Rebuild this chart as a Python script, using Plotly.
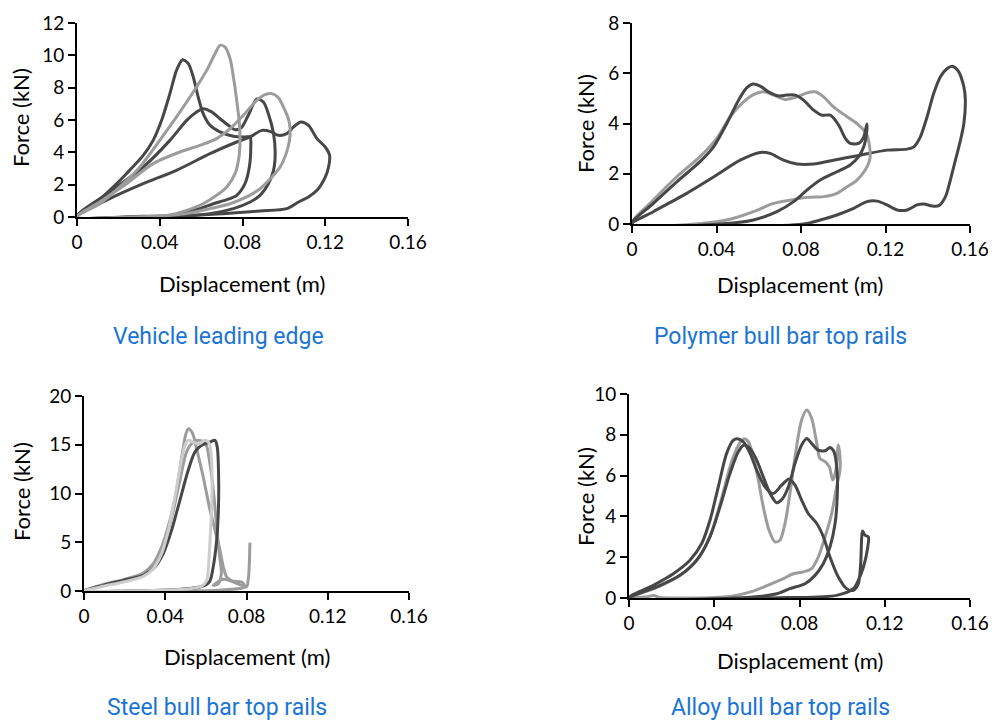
import plotly.graph_objects as go

# ---------------- data (displacement m, force kN) ----------------
# Panel 1: Vehicle leading edge
veh_a_x = [0, 0.0078, 0.0158, 0.0239, 0.032, 0.0368, 0.0409, 0.0449, 0.0481, 0.051, 0.0538, 0.0562, 0.0586, 0.061, 0.0643, 0.0691, 0.0756, 0.0812, 0.0837,
           0.084, 0.0833, 0.0812, 0.0772, 0.0724, 0.0659, 0.0594, 0.0514, 0.04, 0.024, 0]
veh_a_y = [0, 0.72, 1.65, 2.68, 3.81, 4.74, 5.98, 7.63, 9.07, 9.73, 9.49, 8.66, 7.42, 6.39, 5.67, 5.26, 4.99, 4.95, 4.95,
           4.33, 3.09, 2.06, 1.34, 1.07, 0.82, 0.52, 0.21, 0.04, 0, 0]
veh_b_x = [0, 0.0158, 0.032, 0.0481, 0.0643, 0.0772, 0.0837, 0.0893, 0.0933, 0.0974, 0.1014, 0.1047, 0.1082, 0.1119, 0.116, 0.12, 0.1221,
           0.1216, 0.12, 0.116, 0.1119, 0.1071, 0.1014, 0.0885, 0.0724, 0.0562, 0.032, 0]
veh_b_y = [0, 1.13, 2.06, 2.89, 3.92, 4.64, 4.95, 5.36, 5.30, 5.05, 5.16, 5.57, 5.88, 5.67, 4.85, 4.33, 3.81,
           3.09, 2.47, 1.65, 1.24, 0.93, 0.52, 0.37, 0.21, 0.1, 0.04, 0]
veh_c_x = [0, 0.0158, 0.032, 0.0449, 0.053, 0.0578, 0.061, 0.0651, 0.0691, 0.0732, 0.0764, 0.0796, 0.0828, 0.0869, 0.0901, 0.0925, 0.095, 0.0958,
           0.095, 0.0925, 0.0885, 0.0837, 0.0756, 0.0643, 0.0481, 0]
veh_c_y = [0, 1.55, 3.09, 4.74, 5.98, 6.5, 6.7, 6.5, 6.08, 5.67, 5.4, 5.55, 6.29, 7.3, 7.11, 6.39, 5.16, 3.92,
           2.89, 2.06, 1.34, 0.93, 0.52, 0.21, 0.04, 0]
veh_d_x = [0, 0.011, 0.0207, 0.0304, 0.04, 0.0481, 0.0562, 0.0627, 0.0667, 0.0691, 0.0715, 0.074, 0.0756, 0.0772, 0.0785, 0.0788,
           0.0783, 0.0764, 0.0724, 0.0675, 0.061, 0.053, 0.0433, 0.024, 0]
veh_d_y = [0, 0.82, 1.86, 3.09, 4.74, 6.19, 7.73, 9.07, 10.1, 10.62, 10.52, 9.79, 8.66, 7.22, 5.77, 4.74,
           3.71, 2.68, 1.86, 1.34, 0.82, 0.41, 0.1, 0, 0]
veh_e_x = [0, 0.011, 0.0239, 0.0368, 0.0497, 0.0594, 0.0675, 0.074, 0.0804, 0.0869, 0.0909, 0.0942, 0.0974, 0.0998, 0.1022, 0.103,
           0.1027, 0.1011, 0.0982, 0.0942, 0.0885, 0.082, 0.074, 0.0643, 0.053, 0.0368, 0]
veh_e_y = [0, 0.93, 2.06, 3.3, 4.02, 4.43, 4.85, 5.46, 6.29, 7.22, 7.57, 7.63, 7.38, 6.8, 6.08, 5.46,
           4.74, 3.92, 3.09, 2.47, 1.75, 1.24, 0.82, 0.52, 0.21, 0.04, 0]

# Panel 2: Polymer bull bar top rails
pol_a_x = [0, 0.0101, 0.0212, 0.0322, 0.0386, 0.0449, 0.0504, 0.0544, 0.0572, 0.0607, 0.0646, 0.0694, 0.0733, 0.0773, 0.0812, 0.086, 0.0899,
           0.0939, 0.0978, 0.101, 0.1033, 0.1073, 0.1097, 0.1112, 0.111, 0.1097, 0.1073, 0.1033, 0.097, 0.0891, 0.0828, 0.0765, 0.0686,
           0.0575, 0.0417, 0]
pol_a_y = [0, 0.82, 1.68, 2.48, 3.07, 4.0, 4.93, 5.43, 5.57, 5.49, 5.26, 5.10, 5.13, 5.13, 4.93, 4.53, 4.33,
           4.33, 3.94, 3.41, 3.21, 3.21, 3.47, 3.98, 3.6, 3.07, 2.68, 2.35, 2.08, 1.75, 1.35, 0.89, 0.49,
           0.16, 0, 0]
pol_b_x = [0, 0.0101, 0.0212, 0.0322, 0.0401, 0.0465, 0.0528, 0.0575, 0.0623, 0.067, 0.0725, 0.0781, 0.0828, 0.0867, 0.0907, 0.0954,
           0.1018, 0.1073, 0.1109, 0.1125, 0.1125, 0.1104, 0.1065, 0.1018, 0.097, 0.0907, 0.0828, 0.0749, 0.067, 0.0575, 0.0465,
           0.0338, 0]
pol_b_y = [0, 0.95, 1.88, 2.68, 3.41, 4.27, 4.86, 5.15, 5.26, 5.13, 4.96, 5.06, 5.22, 5.26, 5.06, 4.66,
           4.27, 3.94, 3.6, 3.07, 2.54, 2.15, 1.75, 1.48, 1.22, 1.09, 1.06, 0.95, 0.82, 0.49, 0.19,
           0.03, 0]
pol_c_x = [0, 0.0101, 0.0259, 0.0401, 0.0512, 0.0607, 0.0654, 0.0717, 0.0781, 0.086, 0.0954, 0.1081, 0.1207, 0.1302, 0.1334, 0.1365,
           0.1397, 0.1428, 0.146, 0.1492, 0.1515, 0.1542, 0.1571, 0.1578, 0.1571, 0.1555, 0.1531, 0.1507, 0.1484, 0.1452, 0.142,
           0.1381, 0.1349, 0.1302, 0.1255, 0.1207, 0.116, 0.1112, 0.1049, 0.097, 0.0891, 0.0812, 0]
pol_c_y = [0, 0.49, 1.22, 1.95, 2.54, 2.85, 2.81, 2.54, 2.39, 2.39, 2.54, 2.74, 2.94, 2.98, 3.07, 3.47,
           4.27, 5.19, 5.86, 6.19, 6.28, 6.12, 5.46, 4.93, 4.0, 3.34, 2.54, 1.75, 1.09, 0.73, 0.72,
           0.8, 0.76, 0.56, 0.56, 0.76, 0.91, 0.89, 0.62, 0.36, 0.16, 0, 0]

# Panel 3: Steel bull bar top rails
stl_a_x = [0, 0.0095, 0.0194, 0.0292, 0.0349, 0.039, 0.0431, 0.0472, 0.0513, 0.0546, 0.0579, 0.062, 0.0645, 0.0656, 0.0663, 0.0661,
           0.0653, 0.0636, 0.0617, 0.0571, 0.0505, 0.0374, 0.021, 0]
stl_a_y = [0, 0.58, 1.09, 1.61, 2.46, 3.83, 6.22, 9.3, 12.38, 14.26, 14.94, 15.28, 15.45, 14.77, 11.35, 7.93,
           5.2, 2.46, 0.92, 0.41, 0.24, 0.07, 0, 0]
stl_b_x = [0, 0.0095, 0.0194, 0.0292, 0.0341, 0.0382, 0.0423, 0.0456, 0.0481, 0.0502, 0.0515, 0.0535, 0.0558, 0.0587, 0.0617, 0.0645,
           0.0666, 0.0686, 0.0702, 0.0735, 0.0776, 0.08, 0.081, 0.0817]
stl_b_y = [0, 0.68, 1.16, 1.85, 2.8, 4.51, 7.25, 10.33, 13.74, 16.14, 16.65, 16.14, 14.26, 11.69, 8.62, 6.22,
           4.51, 2.46, 1.44, 0.92, 0.58, 0.41, 1.44, 4.96]
stl_c_x = [0, 0.0112, 0.021, 0.03, 0.0349, 0.0394, 0.0436, 0.0472, 0.0505, 0.0538, 0.0571, 0.0599, 0.062, 0.064, 0.0653, 0.0666,
           0.0676, 0.0661, 0.0636, 0.0686, 0.0735, 0.0776, 0.0792, 0.0653, 0.0374, 0]
stl_c_y = [0, 0.68, 1.2, 1.85, 2.8, 4.86, 7.93, 11.35, 14.26, 15.28, 15.45, 15.11, 13.06, 9.64, 6.56, 3.83,
           1.78, 0.75, 0.58, 1.2, 0.99, 0.92, 0.41, 0.07, 0, 0]
stl_d_x = [0, 0.0095, 0.0194, 0.0292, 0.0341, 0.0382, 0.0415, 0.0448, 0.0476, 0.0497, 0.0513, 0.0538, 0.0567, 0.0595, 0.0617, 0.0628,
           0.063, 0.0623, 0.0615, 0.0604, 0.0579, 0.0522, 0.0374, 0.0177, 0]
stl_d_y = [0, 0.48, 0.92, 1.5, 2.29, 3.83, 6.22, 9.64, 13.06, 14.94, 15.45, 15.28, 15.11, 15.45, 15.11, 13.4,
           9.64, 6.22, 3.15, 1.09, 0.48, 0.24, 0.07, 0, 0]

# Panel 4: Alloy bull bar top rails
aly_a_x = [0, 0.0114, 0.0208, 0.0286, 0.0341, 0.038, 0.0419, 0.0458, 0.049, 0.0508, 0.0536, 0.0568, 0.0599, 0.0638, 0.0677, 0.0716,
           0.0751, 0.0779, 0.081, 0.0841, 0.0881, 0.0912, 0.0943, 0.0982, 0.1021, 0.1053, 0.1076, 0.1087, 0.1096, 0.1107, 0.1123,
           0.1118, 0.11, 0.1076, 0.1053, 0.0974, 0.074, 0]
aly_a_y = [0, 0.62, 1.19, 1.85, 2.67, 3.81, 5.45, 7.09, 7.74, 7.81, 7.66, 7.09, 6.27, 5.45, 5.12, 5.53,
           5.83, 5.53, 4.8, 4.14, 3.65, 3.0, 2.01, 1.03, 0.46, 0.38, 0.7, 1.69, 3.29, 3.08, 3.0,
           2.34, 1.52, 0.87, 0.46, 0.13, 0.02, 0]
aly_b_x = [0, 0.013, 0.0239, 0.0317, 0.038, 0.0427, 0.0474, 0.0513, 0.054, 0.0568, 0.0599, 0.063, 0.0662, 0.0693, 0.0721, 0.0748,
           0.0779, 0.081, 0.0834, 0.0857, 0.0888, 0.092, 0.0943, 0.0962, 0.0977, 0.0977, 0.0967, 0.0943, 0.0912, 0.0873, 0.0826,
           0.0755, 0.0693, 0.0583, 0]
aly_b_y = [0, 0.54, 1.11, 1.85, 3.0, 4.47, 6.11, 7.17, 7.5, 7.33, 6.76, 5.94, 5.12, 4.67, 4.88, 5.45,
           6.6, 7.5, 7.82, 7.58, 7.25, 7.22, 7.38, 7.17, 6.11, 4.96, 3.65, 2.5, 1.69, 1.11, 0.7,
           0.46, 0.21, 0.05, 0]
aly_c_x = [0, 0.0145, 0.0255, 0.0333, 0.0388, 0.0435, 0.0482, 0.0521, 0.054, 0.056, 0.0583, 0.0607, 0.063, 0.0657,
           0.0685, 0.0708, 0.0732, 0.0755, 0.0779, 0.081, 0.0834, 0.0857, 0.0881, 0.0896, 0.092, 0.094, 0.0956, 0.0971, 0.0982,
           0.099, 0.099, 0.0974, 0.0951, 0.092, 0.0888, 0.0857, 0.0818, 0.0771, 0.0724, 0.0662, 0.0583, 0.0474, 0.0271,
           0.0145, 0.0115, 0.0085, 0]
aly_c_y = [0, 0.58, 1.22, 2.05, 3.25, 4.9, 6.7, 7.62, 7.8, 7.66, 6.92, 5.78, 4.47, 3.32,
           2.75, 2.83, 3.65, 5.12, 6.92, 8.73, 9.22, 8.81, 7.58, 6.84, 6.68, 6.43, 5.78, 6.27, 7.5,
           6.92, 6.27, 5.45, 4.14, 3.0, 2.01, 1.44, 1.28, 1.19, 0.95, 0.67, 0.34, 0.08, 0,
           0.02, 0.12, 0.06, 0]

x_ticks = [0, 0.04, 0.08, 0.12, 0.16]
x_tick_labels = ["0", "0.04", "0.08", "0.12", "0.16"]
panel_titles = ["Vehicle leading edge", "Polymer bull bar top rails",
                "Steel bull bar top rails", "Alloy bull bar top rails"]
y_axis_title = "Force (kN)"
x_axis_title = "Displacement (m)"

# ---------------- styling ----------------
DARK = "#474747"
GRAY = "#9c9c9c"
LIGHT = "#cdcdcd"
OFF = 8                      # page body margin
W, H = 996, 722


def fx(px):
    return (px - OFF) / W


def fy(py):
    return 1 - (py - OFF) / H


panels = [
    dict(curves=[(veh_a_x, veh_a_y, DARK), (veh_b_x, veh_b_y, DARK), (veh_c_x, veh_c_y, DARK),
                 (veh_d_x, veh_d_y, GRAY), (veh_e_x, veh_e_y, GRAY)],
         px=(77, 408), py=(217, 23), yr=12, dy=2),
    dict(curves=[(pol_c_x, pol_c_y, DARK), (pol_b_x, pol_b_y, GRAY), (pol_a_x, pol_a_y, DARK)],
         px=(632, 970), py=(224, 23), yr=8, dy=2),
    dict(curves=[(stl_b_x, stl_b_y, GRAY), (stl_c_x, stl_c_y, GRAY), (stl_a_x, stl_a_y, DARK), (stl_d_x, stl_d_y, LIGHT)],
         px=(84, 409), py=(591, 396), yr=20, dy=5),
    dict(curves=[(aly_c_x, aly_c_y, GRAY), (aly_a_x, aly_a_y, DARK), (aly_b_x, aly_b_y, DARK)],
         px=(629, 970), py=(598, 394), yr=10, dy=2),
]

fig = go.Figure()
TICKFONT = dict(family="Lato, Liberation Sans, sans-serif", size=19, color="black")

for i, p in enumerate(panels, start=1):
    xa = "x" if i == 1 else f"x{i}"
    ya = "y" if i == 1 else f"y{i}"
    for cx, cy, col in p["curves"]:
        fig.add_trace(go.Scatter(x=cx, y=cy, mode="lines", xaxis=xa, yaxis=ya,
                                 line=dict(color=col, width=3, shape="spline", smoothing=0.8),
                                 showlegend=False, hoverinfo="skip"))
    xkey = "xaxis" if i == 1 else f"xaxis{i}"
    ykey = "yaxis" if i == 1 else f"yaxis{i}"
    fig.layout[xkey] = dict(domain=[fx(p["px"][0]), fx(p["px"][1])], range=[0, 0.16],
                            tickvals=x_ticks, ticktext=x_tick_labels, anchor=ya, automargin=False,
                            showline=True, linecolor="black", linewidth=2, ticks="outside",
                            ticklen=7, tickwidth=2, tickcolor="black", showgrid=False, zeroline=False,
                            tickfont=TICKFONT)
    fig.layout[ykey] = dict(domain=[fy(p["py"][0]), fy(p["py"][1])], range=[0, p["yr"]],
                            tickvals=list(range(0, p["yr"] + 1, p["dy"])), anchor=xa, automargin=False,
                            showline=True, linecolor="black", linewidth=2, ticks="outside",
                            ticklen=7, tickwidth=2, tickcolor="black", showgrid=False, zeroline=False,
                            tickfont=TICKFONT)

ann = []
TITLEFONT = dict(family="Lato, Liberation Sans, sans-serif", size=22, color="black")
xt_pos = [(242, 283), (800, 284), (247, 656), (800, 660)]
yt_pos = [(21, 118), (585, 124), (21, 492), (585, 497)]
pt_pos = [(218, 336), (780, 336), (217, 707), (780, 707)]
for (xx, yy) in xt_pos:
    ann.append(dict(x=fx(xx), y=fy(yy), xref="paper", yref="paper", text=x_axis_title,
                    showarrow=False, font=TITLEFONT, xanchor="center", yanchor="middle"))
for (xx, yy) in yt_pos:
    ann.append(dict(x=fx(xx), y=fy(yy), xref="paper", yref="paper", text=y_axis_title,
                    showarrow=False, font=TITLEFONT, textangle=-90, xanchor="center", yanchor="middle"))
for t, (xx, yy) in zip(panel_titles, pt_pos):
    ann.append(dict(x=fx(xx), y=fy(yy), xref="paper", yref="paper", text=t,
                    showarrow=False, font=dict(family="Roboto, sans-serif", size=23, color="#1a74d6"),
                    xanchor="center", yanchor="middle"))

fig.update_layout(width=W, height=H, margin=dict(l=0, r=0, t=0, b=0),
                  paper_bgcolor="white", plot_bgcolor="white", annotations=ann)

fig.write_html("out.html")
